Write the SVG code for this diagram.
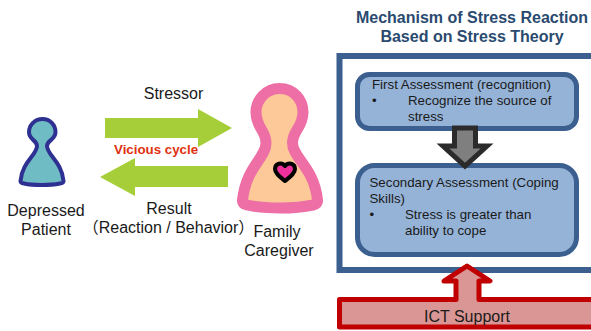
<svg xmlns="http://www.w3.org/2000/svg" width="591" height="331" viewBox="0 0 591 331">
<style>
text{font-family:"Liberation Sans","Noto Sans CJK JP",sans-serif;fill:#1a1a1a;font-size:16px}
.s{font-size:13.300px}
.t{font-size:16px;font-weight:bold;fill:#2a4a70;text-anchor:middle}
.c{text-anchor:middle}
.g{fill:#a6ce39}
.b{fill:#95b3d7;stroke:#3b5f8f;stroke-width:5}
</style>
<rect width="591" height="331" fill="#fff"/>
<g id="patient">
<path d="M42.500 119C50 119 55.500 125 55.500 132C55.500 140 47 140 47 146C47 155 62 162 63.500 181Q63.500 183 60 183.500C50 185.500 33 185.500 24 183.500Q20.500 183 20.500 181C22 162 37 155 37 146C37 140 29 140 29 132C29 125 35 119 42.500 119Z" fill="#70bcc4" stroke="#2e3192" stroke-width="4" stroke-linejoin="round"/>
<text class="c" x="46" y="216">Depressed</text>
<text class="c" x="46" y="235">Patient</text>
</g>
<g id="caregiver">
<path d="M279.500 88.500C294 88.500 303 100 303 112C303 128 292.500 130 292.500 143C292.500 158 314 167 317.500 200Q318 204 313 205C295 209 265 209 247 205Q242 204 242.500 200C246 167 266 158 266 143C266 130 256 128 256 112C256 100 266 88.500 279.500 88.500Z" fill="#fdc998" stroke="#ee6fa6" stroke-width="11" stroke-linejoin="round"/>
<path d="M285 181C280 177 275 173.500 275 169C275 163 282 162 285 166C288 162 295 163 295 169C295 173.500 290 177 285 181Z" fill="#ee2f9c" stroke="#000" stroke-width="4" stroke-linejoin="round"/>
<text class="c" x="277" y="237">Family</text>
<text class="c" x="279" y="256">Caregiver</text>
</g>
<g id="labels">
<text class="c" x="173.500" y="99">Stressor</text>
<text class="c" x="169" y="214">Result</text>
<text class="c" x="168.500" y="233">（Reaction / Behavior）</text>
</g>
<g id="mechanism">
<text class="t" x="472" y="23">Mechanism of Stress Reaction</text>
<text class="t" x="472" y="42">Based on Stress Theory</text>
<rect x="339.500" y="56" width="270" height="214" fill="none" stroke="#3b5f8f" stroke-width="6"/>
</g>
<g id="first">
<rect class="b" x="357.500" y="74.500" width="219" height="54" rx="12"/>
<text class="s" x="372" y="89">First Assessment (recognition)</text>
<text class="s" x="372" y="105">•</text><text class="s" x="408" y="105">Recognize the source of</text>
<text class="s" x="408" y="121">stress</text>
</g>
<g id="second">
<rect class="b" x="357.500" y="165.500" width="219" height="89" rx="17"/>
<text class="s" x="369.500" y="187">Secondary Assessment (Coping</text>
<text class="s" x="369.500" y="203">Skills)</text>
<text class="s" x="369.500" y="219">•</text><text class="s" x="405" y="219">Stress is greater than</text>
<text class="s" x="405" y="235">ability to cope</text>
</g>
<g id="ict">
<path d="M339.500 327V299.500H456V281H444L467 266L490 281H479V299.500H600V327Z" fill="#d99694" stroke="#c00000" stroke-width="5" stroke-linejoin="round"/>
<text class="c" x="467" y="322">ICT Support</text>
</g>
<g id="connectors">
<path class="g" d="M105 118H198V109L232 128L198 147V138H105Z"/>
<path class="g" d="M228 166H135V158L100 177L135 196V187H228Z"/>
<path d="M454.500 128H475.500V146H487L465 166L443 146H454.500Z" fill="#7f7f7f" stroke="#2b2b2b" stroke-width="5"/>
</g>
<text x="114" y="154" style="font-size:13.300px;font-weight:bold;fill:#e03010">Vicious cycle</text>
</svg>
